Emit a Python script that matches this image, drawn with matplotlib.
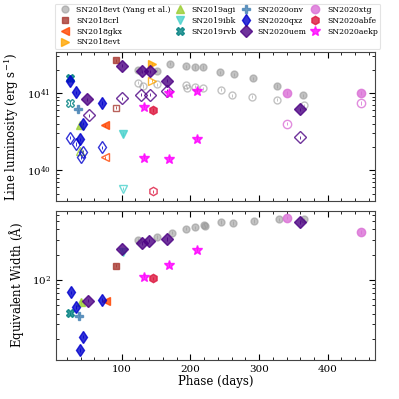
import matplotlib.pyplot as plt
from matplotlib.ticker import MultipleLocator, LogLocator, NullFormatter

plt.rcParams['font.family'] = ['DejaVu Serif']
plt.rcParams['mathtext.fontset'] = 'dejavuserif'

# name, color, marker, size
styles = [
    ("SN2018evt (Yang et al.)", "#9a9a9a", "o", 5),
    ("SN2018crl", "#a83a32", "s", 5),
    ("SN2018gkx", "orangered", "<", 6),
    ("SN2018evt", "orange", ">", 6),
    ("SN2019agi", "yellowgreen", "^", 6),
    ("SN2019ibk", "mediumturquoise", "v", 6),
    ("SN2019rvb", "teal", "X", 6),
    ("SN2020onv", "steelblue", "P", 6),
    ("SN2020qxz", "mediumblue", "d", 6),
    ("SN2020uem", "indigo", "D", 6),
    ("SN2020xtg", "orchid", "o", 6),
    ("SN2020abfe", "crimson", "h", 6),
    ("SN2020aekp", "magenta", "*", 7),
]

# line luminosity, filled symbols (log10 erg/s)
lum_filled = {
    "SN2018evt (Yang et al.)": ([123, 151, 171, 193, 206, 218, 243, 263, 291, 326, 364],
                                [41.30, 41.29, 41.38, 41.345, 41.336, 41.336, 41.27, 41.24, 41.19, 41.09, 40.97]),
    "SN2018crl": ([91], [41.42]),
    "SN2018gkx": ([75], [40.58]),
    "SN2018evt": ([144], [41.37]),
    "SN2019agi": ([39], [40.58]),
    "SN2019ibk": ([102], [40.47]),
    "SN2019rvb": ([25], [41.20]),
    "SN2020onv": ([36], [40.79]),
    "SN2020qxz": ([25, 33, 71, 44, 39], [41.16, 41.01, 40.87, 40.60, 40.40]),
    "SN2020uem": ([101, 129, 141, 166, 50, 359], [41.35, 41.28, 41.28, 41.16, 40.92, 40.79]),
    "SN2020xtg": ([340, 448], [41.0, 41.0]),
    "SN2020abfe": ([145], [40.78]),
    "SN2020aekp": ([132, 169, 210, 132, 169, 210], [40.82, 41.00, 41.03, 40.16, 40.15, 40.41]),
}

# line luminosity, open symbols (log10 erg/s)
lum_open = {
    "SN2018evt (Yang et al.)": ([123, 131, 152, 193, 195, 206, 219, 244, 261, 290, 326, 365],
                                [41.13, 41.09, 41.11, 41.10, 41.07, 41.08, 41.06, 41.04, 40.97, 40.95, 40.91, 40.84]),
    "SN2018crl": ([92], [40.81]),
    "SN2018gkx": ([75], [40.17]),
    "SN2018evt": ([144], [41.16]),
    "SN2019agi": ([39], [40.25]),
    "SN2019ibk": ([102], [39.76]),
    "SN2019rvb": ([25], [40.87]),
    "SN2020qxz": ([25, 34, 44, 40, 71], [40.42, 40.34, 40.24, 40.17, 40.30]),
    "SN2020uem": ([101, 52, 128, 141, 166, 359], [40.93, 40.71, 40.98, 40.98, 41.03, 40.43]),
    "SN2020xtg": ([340, 448], [40.60, 40.87]),
    "SN2020abfe": ([145], [39.73]),
}

# equivalent width (log10 Angstrom)
ew = {
    "SN2018evt (Yang et al.)": ([124, 152, 173, 194, 206, 220, 221, 245, 262, 292, 329, 366],
                                [2.48, 2.51, 2.565, 2.61, 2.625, 2.66, 2.64, 2.69, 2.68, 2.70, 2.72, 2.72]),
    "SN2018crl": ([92], [2.17]),
    "SN2018gkx": ([77], [1.75]),
    "SN2019agi": ([41], [1.74]),
    "SN2019ibk": ([102], [2.33]),
    "SN2019rvb": ([25], [1.605]),
    "SN2020onv": ([37], [1.577]),
    "SN2020qxz": ([26, 34, 71, 44, 39], [1.854, 1.683, 1.763, 1.328, 1.171]),
    "SN2020uem": ([51, 101, 129, 140, 166, 359], [1.755, 2.367, 2.44, 2.47, 2.49, 2.69]),
    "SN2020xtg": ([340, 448], [2.74, 2.57]),
    "SN2020abfe": ([145], [2.02]),
    "SN2020aekp": ([132, 169, 210], [2.04, 2.18, 2.36]),
}

err_dex = 0.02  # small error bar drawn through each symbol

fig = plt.figure(figsize=(3.99, 3.99), dpi=100)
ax1 = fig.add_axes([0.140, 0.496, 0.800, 0.374])
ax2 = fig.add_axes([0.140, 0.098, 0.800, 0.373], sharex=ax1)


def draw(ax, x, y, col, mk, ms, alpha, filled):
    vals = [10 ** v for v in y]
    lo = [v - 10 ** (l - err_dex) for v, l in zip(vals, y)]
    hi = [10 ** (l + err_dex) - v for v, l in zip(vals, y)]
    ax.errorbar(x, vals, yerr=[lo, hi], ls='none', marker=mk, ms=ms,
                mfc=col if filled else 'none', mec=col, mew=1.0,
                ecolor=col, elinewidth=0.7, capsize=0, alpha=alpha)


handles = []
for name, col, mk, ms in styles:
    alpha = 0.6 if name.startswith("SN2018evt (") else 0.8
    if name in lum_filled:
        draw(ax1, *lum_filled[name], col, mk, ms, alpha, True)
    if name in lum_open:
        draw(ax1, *lum_open[name], col, mk, ms, alpha, False)
    if name in ew:
        draw(ax2, *ew[name], col, mk, ms, alpha, True)
    h, = ax1.plot([], [], ls='none', marker=mk, ms=ms, color=col, alpha=alpha, label=name)
    handles.append(h)

for ax in (ax1, ax2):
    ax.set_yscale('log')
    ax.xaxis.set_minor_locator(MultipleLocator(20))
    ax.xaxis.set_major_locator(MultipleLocator(100))
    ax.tick_params(which='both', direction='in', top=True, right=True, labelsize=7.5)
    ax.tick_params(which='major', length=4)
    ax.tick_params(which='minor', length=2)
    for s in ax.spines.values():
        s.set_color('#444444')

ax1.set_xlim(4, 469)
ax1.set_ylim(4.0e39, 3.4e41)
ax2.set_ylim(11.3, 660)
ax2.yaxis.set_major_locator(LogLocator(base=10, numticks=5))
ax2.yaxis.set_minor_formatter(NullFormatter())
ax1.yaxis.set_minor_formatter(NullFormatter())
plt.setp(ax1.get_xticklabels(), visible=False)

ax1.set_ylabel(r"Line luminosity (erg s$^{-1}$)", fontsize=8.5)
ax2.set_ylabel(r"Equivalent Width ($\mathrm{\AA}$)", fontsize=8.5)
ax2.set_xlabel("Phase (days)", fontsize=8.5, labelpad=1)

leg = fig.legend(handles=handles, ncol=4, fontsize=5.6,
                 loc='lower left', bbox_to_anchor=(0.137, 0.878, 0.816, 0.1),
                 mode='expand', frameon=True, handletextpad=0.5,
                 borderaxespad=0, labelspacing=0.35, columnspacing=0.8,
                 borderpad=0.3)
leg.get_frame().set_edgecolor('#dddddd')
leg.get_frame().set_linewidth(0.8)

fig.savefig("out.png", dpi=100)
